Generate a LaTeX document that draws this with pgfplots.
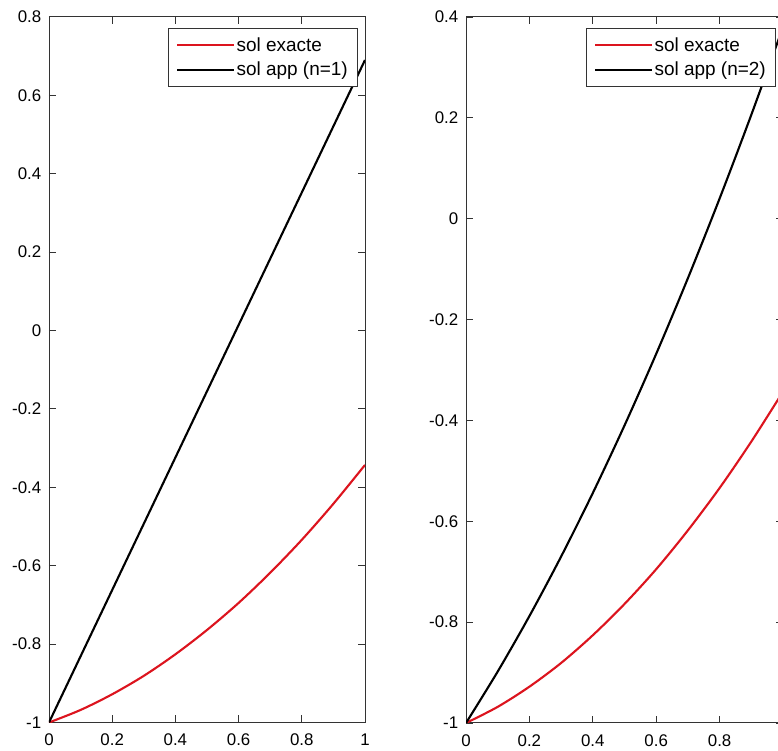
\documentclass[border=0pt]{standalone}
\usepackage{fontspec}
\setmainfont{Liberation Sans}
\usepackage{pgfplots}
\pgfplotsset{compat=1.18}
\definecolor{solred}{RGB}{220,20,30}

\pgfplotsset{matlab/.style={
    scale only axis,
    anchor=south west,
    xmin=0, xmax=1,
    xtick={0,0.2,0.4,0.6,0.8,1},
    tick align=inside,
    tick pos=both,
    major tick length=0.175cm,
    axis line style={line width=0.7pt, black!80},
    every tick/.style={black!80, line width=0.6pt},
    tick label style={font=\fontsize{12}{14}\selectfont},
    xticklabel style={yshift=-4.5pt},
    yticklabel style={xshift=-2pt},
    /pgf/number format/assume math mode=true,
    legend cell align=left,
    legend style={at={(0.977,0.984)}, anchor=north east,
        draw=black!80, line width=0.7pt, fill=white,
        font=\fontsize{13.5}{15}\selectfont,
        inner xsep=0.2cm, inner ysep=0.18cm, row sep=0.15cm,
        nodes={inner sep=1pt},
        /tikz/every even column/.append style={column sep=0.12cm}},
    legend image code/.code={\draw[##1,line width=1.5pt] (0cm,0cm) -- (1.425cm,0cm);},
}}

\begin{document}
\begin{tikzpicture}

% n=1
\begin{axis}[matlab,
    at={(1.225cm,0.7125cm)}, width=7.9cm, height=17.64cm,
    ymin=-1, ymax=0.8,
    ytick={-1,-0.8,-0.6,-0.4,-0.2,0,0.2,0.4,0.6,0.8}]
\addplot[solred, line width=1.5pt, smooth] coordinates {
    (0,-1)(0.1,-0.968)(0.2,-0.928)(0.3,-0.881)(0.4,-0.826)(0.5,-0.764)
    (0.6,-0.695)(0.7,-0.618)(0.8,-0.534)(0.9,-0.442)(1,-0.343)};
\addlegendentry{sol exacte}
\addplot[black, line width=1.5pt] coordinates {
    (0,-1)(0.2,-0.662)(0.4,-0.324)(0.6,0.014)(0.8,0.352)(1,0.69)};
\addlegendentry{sol app (n=1)}
\end{axis}

% n=2
\begin{axis}[matlab,
    at={(11.65cm,0.7cm)}, width=7.925cm, height=17.65cm,
    ymin=-1, ymax=0.4,
    ytick={-1,-0.8,-0.6,-0.4,-0.2,0,0.2,0.4}]
\addplot[solred, line width=1.5pt, smooth] coordinates {
    (0,-1)(0.1,-0.968)(0.2,-0.928)(0.3,-0.881)(0.4,-0.826)(0.5,-0.764)
    (0.6,-0.695)(0.7,-0.618)(0.8,-0.534)(0.9,-0.442)(1,-0.343)};
\addlegendentry{sol exacte}
\addplot[black, line width=1.5pt, smooth] coordinates {
    (0,-1)(0.1,-0.898)(0.2,-0.788)(0.3,-0.670)(0.4,-0.544)(0.5,-0.41)
    (0.6,-0.268)(0.7,-0.118)(0.8,0.04)(0.9,0.206)(1,0.38)};
\addlegendentry{sol app (n=2)}
\end{axis}

% the reference image is cut at its right edge
\pgfresetboundingbox
\path (0,0) rectangle (19.45cm,18.775cm);
\end{tikzpicture}
\end{document}
